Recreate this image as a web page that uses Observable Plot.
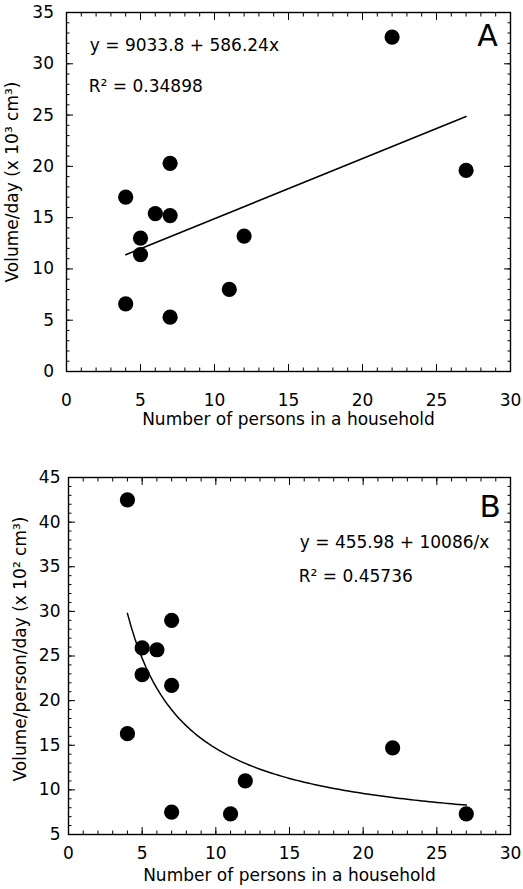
<!DOCTYPE html>
<html>
<head>
<meta charset="utf-8">
<script src="https://cdn.jsdelivr.net/npm/d3@7"></script>
<script src="https://cdn.jsdelivr.net/npm/@observablehq/plot@0.6"></script>
<style>
  html, body { margin: 0; padding: 0; background: #fff; }
  #chart { width: 523px; }
  #chart svg { display: block; }
</style>
</head>
<body>
<div id="chart"></div>
<script>
// ---- data ----
const persons = [4, 4, 5, 5, 6, 7, 7, 7, 11, 12, 22, 27];
const volumePerDay = [17.0, 6.6, 13.0, 11.4, 15.4, 20.3, 15.2, 5.3, 8.0, 13.2, 32.6, 19.6];          // x 10^3 cm^3
const volumePerPersonDay = [42.5, 16.3, 25.9, 22.9, 25.7, 29.0, 21.7, 7.5, 7.3, 11.0, 14.7, 7.3];   // x 10^2 cm^3

// regression coefficients stated on the chart
const fitA = {a: 9033.8, b: 586.24, r2: "0.34898"};
const fitB = {a: 455.98, b: 10086, r2: "0.45736"};
const fitRange = [4, 27];

// tick values
const xTicks = [0, 5, 10, 15, 20, 25, 30];
const yTicksA = [0, 5, 10, 15, 20, 25, 30, 35];
const yTicksB = [5, 10, 15, 20, 25, 30, 35, 40, 45];
const xMinor = d3.range(0, 31, 1);
const yMinorA = d3.range(0, 36, 1);
const yMinorB = d3.range(5, 46, 1);

const xTitle = "Number of persons in a household";
const yTitleA = "Volume/day (x 10³ cm³)";
const yTitleB = "Volume/person/day (x 10² cm³)";
const eqA = "y = 9033.8 + 586.24x";
const eqB = "y = 455.98 + 10086/x";

const tableA = persons.map((p, i) => ({x: p, y: volumePerDay[i]}));
const tableB = persons.map((p, i) => ({x: p, y: volumePerPersonDay[i]}));
const fitXs = d3.range(fitRange[0], fitRange[1] + 0.001, 0.25);
const lineA = fitRange.map(x => ({x, y: (fitA.a + fitA.b * x) / 1000}));
const lineB = fitXs.map(x => ({x, y: (fitB.a + fitB.b / x) / 100}));

const FONT = "DejaVu Sans";
const blank = () => "";

function tickMarks(xs, ys, len) {
  return [
    Plot.axisX(xs, {anchor: "bottom", tickSize: -len, tickFormat: blank, label: null}),
    Plot.axisX(xs, {anchor: "top", tickSize: -len, tickFormat: blank, label: null}),
    Plot.axisY(ys, {anchor: "left", tickSize: -len, tickFormat: blank, label: null}),
    Plot.axisY(ys, {anchor: "right", tickSize: -len, tickFormat: blank, label: null})
  ];
}

function panel(opts) {
  return Plot.plot({
    width: 523,
    height: opts.height,
    marginTop: opts.mt,
    marginBottom: opts.mb,
    marginLeft: opts.ml,
    marginRight: opts.mr,
    style: {fontFamily: FONT, fontSize: "17px", color: "#000", background: "#fff", overflow: "visible"},
    x: {domain: [0, 30]},
    y: {domain: opts.yDomain},
    marks: [
      ...tickMarks(xMinor, opts.yMinor, 3.5),
      ...tickMarks(xTicks, opts.yTicks, 7),
      Plot.axisX(xTicks, {anchor: "bottom", tickSize: 0, tickPadding: opts.xPad, label: null, fontSize: 17}),
      Plot.axisY(opts.yTicks, {anchor: "left", tickSize: 0, tickPadding: opts.yPad, label: null, fontSize: 17}),
      Plot.frame({stroke: "#000", strokeWidth: 1.4}),
      Plot.line(opts.fit, {x: "x", y: "y", stroke: "#000", strokeWidth: 1.5, curve: "linear"}),
      Plot.dot(opts.data, {x: "x", y: "y", r: 7.6, fill: "#000", stroke: "none"}),
      Plot.text([xTitle], {frameAnchor: "bottom", textAnchor: "middle", lineAnchor: "bottom", dy: opts.xTitleDy, fontSize: 17}),
      Plot.text([opts.yTitle], {frameAnchor: "left", textAnchor: "middle", lineAnchor: "bottom", rotate: -90, dx: opts.yTitleDx, dy: opts.yTitleDy, fontSize: 17}),
      Plot.text([opts.eq], {frameAnchor: "top-left", textAnchor: "start", lineAnchor: "bottom", dx: opts.eqDx, dy: opts.eqDy, fontSize: 17}),
      Plot.text(["R² = " + opts.r2], {frameAnchor: "top-left", textAnchor: "start", lineAnchor: "bottom", dx: opts.eqDx - 1, dy: opts.r2Dy, fontSize: 17}),
      Plot.text([opts.letter], {frameAnchor: "top-right", textAnchor: "middle", lineAnchor: "bottom", dx: opts.letterDx, dy: opts.letterDy, fontSize: opts.letterSize})
    ]
  });
}

const chartA = panel({
  height: 440, mt: 12, mb: 69, ml: 66, mr: 13,
  yDomain: [0, 35], yTicks: yTicksA, yMinor: yMinorA,
  xPad: 22, yPad: 12.5,
  data: tableA, fit: lineA,
  xTitleDy: 53, yTitle: yTitleA, yTitleDx: -49, yTitleDy: -10,
  eq: eqA, r2: fitA.r2, eqDx: 23.3, eqDy: 38.7, r2Dy: 79.7,
  letter: "A", letterDx: -23, letterDy: 33, letterSize: 30
});

const chartB = panel({
  height: 449, mt: 37, mb: 55, ml: 68, mr: 13,
  yDomain: [5, 45], yTicks: yTicksB, yMinor: yMinorB,
  xPad: 12, yPad: 8,
  data: tableB, fit: lineB,
  xTitleDy: 46, yTitle: yTitleB, yTitleDx: -43, yTitleDy: -7,
  eq: eqB, r2: fitB.r2, eqDx: 231.3, eqDy: 70, r2Dy: 104.7,
  letter: "B", letterDx: -20.3, letterDy: 39.7, letterSize: 31
});

document.getElementById("chart").append(chartA, chartB);
</script>
</body>
</html>
